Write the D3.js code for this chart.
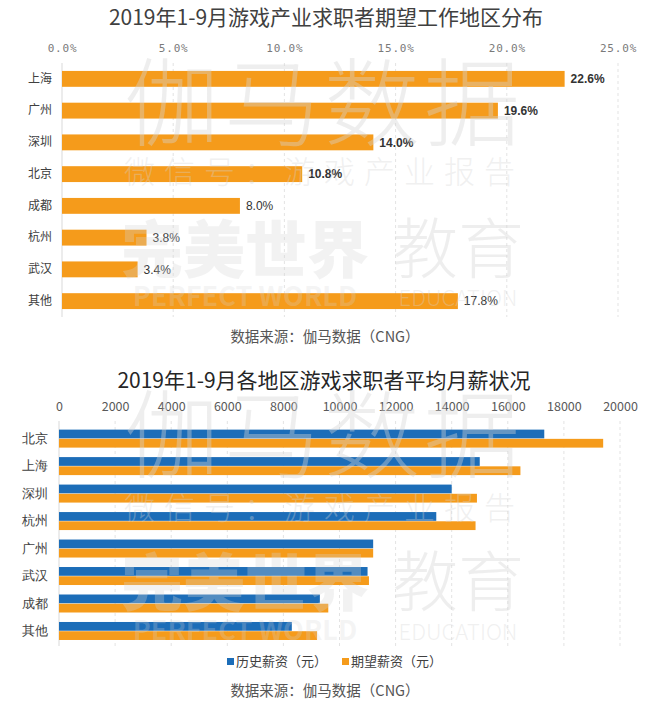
<!DOCTYPE html>
<html><head><meta charset="utf-8">
<script src="https://cdn.jsdelivr.net/npm/d3@7"></script>
<style>
body{margin:0;background:#fff;}
svg{display:block;font-family:"Noto Sans CJK SC","Noto Sans",sans-serif;}
</style></head>
<body>
<svg id="c" width="650" height="703"></svg>
<script>
// ---- Data ----
const title1 = "2019年1-9月游戏产业求职者期望工作地区分布";
const regions1 = ["上海","广州","深圳","北京","成都","杭州","武汉","其他"];
const shares = [22.6,19.6,14.0,10.8,8.0,3.8,3.4,17.8];
const boldCount = 4;
const ticks1 = [0,5,10,15,20,25];

const title2 = "2019年1-9月各地区游戏求职者平均月薪状况";
const regions2 = ["北京","上海","深圳","杭州","广州","武汉","成都","其他"];
const histSalary = [17300,15000,14000,13450,11200,11000,9300,8300];
const expSalary  = [19400,16450,14900,14850,11200,11050,9600,9200];
const ticks2 = [0,2000,4000,6000,8000,10000,12000,14000,16000,18000,20000];
const seriesNames = ["历史薪资（元）","期望薪资（元）"];
const sourceText = "数据来源：伽马数据（CNG）";
const wmMain = "伽马数据", wmSub = "微信号：游戏产业报告";
const wmBrand = ["完美世界","教育"], wmBrandEn = ["PERFECT WORLD","EDUCATION"];

const ORANGE = "#F59B1B", BLUE = "#1C6DB8";
const svg = d3.select("#c");
const base = svg.append("g");
const marks = svg.append("g");
const wmLayer = svg.append("g").attr("pointer-events","none");

// ---- Chart 1 ----
const x1 = d3.scaleLinear().domain([0,25]).range([62,618]);
const y1 = d3.scaleBand().domain(regions1).range([63,317]).paddingInner(0.5).paddingOuter(0.25);

base.append("text").attr("x",326).attr("y",25).attr("text-anchor","middle")
  .attr("font-size",21).attr("fill","#404040").text(title1);

const ax1 = base.append("g").attr("transform","translate(0,52)")
  .call(d3.axisTop(x1).tickValues(ticks1).tickFormat(d=>d.toFixed(1)+"%").tickSize(0).tickPadding(0));
ax1.select(".domain").remove();
ax1.selectAll("text").attr("font-size",11).attr("fill","#7a7a7a").attr("letter-spacing",0.8)
  .attr("font-family","'DejaVu Sans Mono',monospace");

base.append("g").selectAll("line").data(ticks1).join("line")
  .attr("x1",d=>x1(d)).attr("x2",d=>x1(d)).attr("y1",63).attr("y2",317)
  .attr("stroke",d=>d===0?"#d9d9d9":"#e3e3e3").attr("stroke-dasharray",d=>d===0?null:"3,3");

marks.append("g").selectAll("rect").data(shares).join("rect")
  .attr("x",x1(0)).attr("y",(d,i)=>y1(regions1[i]))
  .attr("width",d=>x1(d)-x1(0)).attr("height",y1.bandwidth()).attr("fill",ORANGE);

marks.append("g").selectAll("text").data(shares).join("text")
  .attr("x",d=>x1(d)+6).attr("y",(d,i)=>y1(regions1[i])+y1.bandwidth()/2)
  .attr("dy","0.35em").attr("font-size",12).attr("fill","#333")
  .attr("font-family","'Liberation Sans',Arial,sans-serif")
  .attr("font-weight",(d,i)=>i<boldCount?"bold":"normal")
  .text(d=>d.toFixed(1)+"%");

const ay1 = base.append("g").attr("transform","translate(52,0)")
  .call(d3.axisLeft(y1).tickSize(0).tickPadding(0));
ay1.select(".domain").remove();
ay1.selectAll("text").attr("font-size",12).attr("fill","#404040").attr("font-family","'Noto Sans CJK SC',sans-serif");

base.append("text").attr("x",325).attr("y",342).attr("text-anchor","middle")
  .attr("font-size",14.5).attr("fill","#555").text(sourceText);

// ---- Chart 2 ----
const x2 = d3.scaleLinear().domain([0,20000]).range([59,620]);
const y2 = d3.scaleBand().domain(regions2).range([420,649.6]).paddingInner(0.345).paddingOuter(0.35);
const ySub = d3.scaleBand().domain([0,1]).range([0,y2.bandwidth()]).paddingInner(0.05);

base.append("text").attr("x",324).attr("y",388).attr("text-anchor","middle")
  .attr("font-size",21).attr("fill","#262626").text(title2);

const ax2 = base.append("g").attr("transform","translate(0,411)")
  .call(d3.axisTop(x2).tickValues(ticks2).tickFormat(d3.format("d")).tickSize(0).tickPadding(0));
ax2.select(".domain").remove();
ax2.selectAll("text").attr("font-size",12.5).attr("fill","#595959")
  .attr("font-family","'Noto Sans CJK SC',sans-serif");

base.append("g").selectAll("line").data(ticks2).join("line")
  .attr("x1",d=>x2(d)).attr("x2",d=>x2(d)).attr("y1",421).attr("y2",646)
  .attr("stroke",d=>d===0?"#d9d9d9":"#e3e3e3").attr("stroke-dasharray",d=>d===0?null:"3,3");

const series = [histSalary, expSalary];
const colors = [BLUE, ORANGE];
series.forEach((vals,s)=>{
  marks.append("g").selectAll("rect").data(vals).join("rect")
    .attr("x",x2(0)).attr("y",(d,i)=>y2(regions2[i])+ySub(s))
    .attr("width",d=>x2(d)-x2(0)).attr("height",ySub.bandwidth()).attr("fill",colors[s]);
});

const ay2 = base.append("g").attr("transform","translate(48,0)")
  .call(d3.axisLeft(y2).tickSize(0).tickPadding(0));
ay2.select(".domain").remove();
ay2.selectAll("text").attr("font-size",13).attr("fill","#404040");

// legend
const legX = [227, 342];
const leg = base.append("g");
seriesNames.forEach((n,i)=>{
  leg.append("rect").attr("x",legX[i]).attr("y",658).attr("width",7).attr("height",7).attr("fill",colors[i]);
  leg.append("text").attr("x",legX[i]+9).attr("y",666).attr("font-size",13).attr("fill","#404040").text(n);
});

base.append("text").attr("x",325).attr("y",696).attr("text-anchor","middle")
  .attr("font-size",14.5).attr("fill","#555").text(sourceText);

// ---- watermark (semi-transparent overlay, as in the source image) ----
function watermark(yMain, ySubL, yBrand, yEn){
  const g = wmLayer.append("g").attr("fill","#d4d4d4");
  g.append("text").attr("x",324).attr("y",yMain).attr("text-anchor","middle")
    .attr("font-size",96).attr("font-weight",300).attr("letter-spacing",4)
    .attr("fill-opacity",0.4).text(wmMain);
  g.append("text").attr("x",324).attr("y",ySubL).attr("text-anchor","middle")
    .attr("font-size",31).attr("font-weight",300).attr("letter-spacing",9)
    .attr("fill-opacity",0.35).text(wmSub);
  g.append("text").attr("x",245).attr("y",yBrand).attr("text-anchor","middle")
    .attr("font-size",62).attr("font-weight",900)
    .attr("fill-opacity",0.3).text(wmBrand[0]);
  g.append("text").attr("x",458).attr("y",yBrand).attr("text-anchor","middle")
    .attr("font-size",66).attr("font-weight",300)
    .attr("fill-opacity",0.4).text(wmBrand[1]);
  g.append("text").attr("x",245).attr("y",yEn).attr("text-anchor","middle")
    .attr("font-size",27).attr("font-weight","bold")
    .attr("fill-opacity",0.25).text(wmBrandEn[0]);
  g.append("text").attr("x",458).attr("y",yEn).attr("text-anchor","middle")
    .attr("font-size",22).attr("font-weight",300)
    .attr("fill-opacity",0.35).text(wmBrandEn[1]);
}
watermark(138, 183, 273, 306);
watermark(470, 519, 606, 640);
</script>
</body></html>
